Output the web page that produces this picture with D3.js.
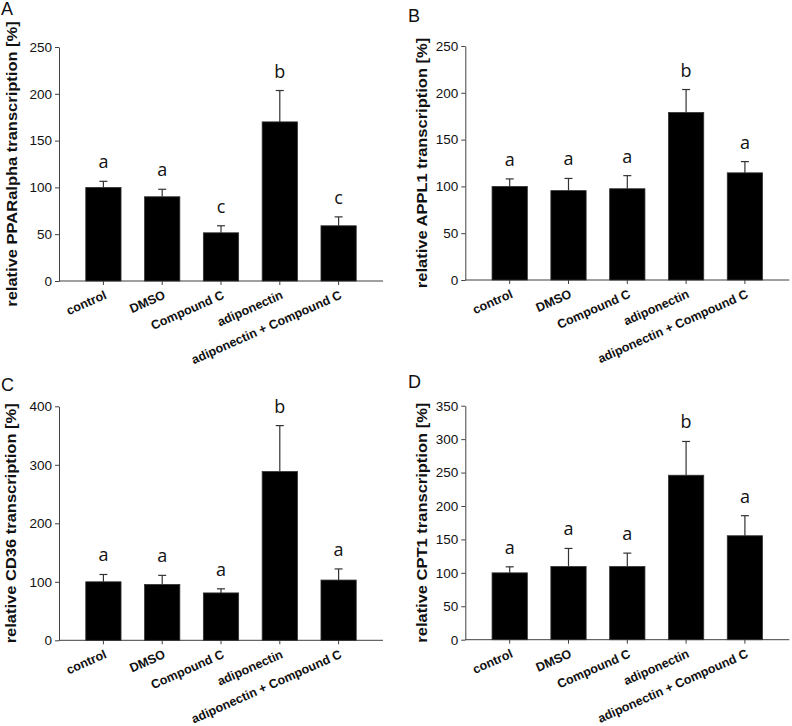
<!DOCTYPE html>
<html>
<head>
<meta charset="utf-8">
<script src="https://cdn.jsdelivr.net/npm/d3@7"></script>
<style>
  body { margin: 0; background: #fff; }
  svg { display: block; }
</style>
</head>
<body>
<svg id="chart" width="792" height="726"></svg>
<script>
// ---------- data ----------
const categories = ["control", "DMSO", "Compound C", "adiponectin", "adiponectin + Compound C"];

const pparMeans   = [100, 90, 51.5, 170, 59];
const pparErrors  = [6.5, 8, 7.5, 33.5, 9.5];
const pparLetters = ["a", "a", "c", "b", "c"];
const pparTicks   = [0, 50, 100, 150, 200, 250];

const applMeans   = [100, 95.5, 97.5, 179, 114.5];
const applErrors  = [8, 13, 14, 24.5, 12];
const applLetters = ["a", "a", "a", "b", "a"];
const applTicks   = [0, 50, 100, 150, 200, 250];

const cd36Means   = [100, 95.5, 81, 288.5, 103];
const cd36Errors  = [12.5, 15.5, 7, 78.5, 19];
const cd36Letters = ["a", "a", "a", "b", "a"];
const cd36Ticks   = [0, 100, 200, 300, 400];

const cpt1Means   = [100, 109.5, 109.5, 246, 155.5];
const cpt1Errors  = [9, 27, 20, 50.5, 30];
const cpt1Letters = ["a", "a", "a", "b", "a"];
const cpt1Ticks   = [0, 50, 100, 150, 200, 250, 300, 350];

const panelTags   = ["A", "B", "C", "D"];
const yTitles     = [
  "relative PPARalpha transcription [%]",
  "relative APPL1 transcription [%]",
  "relative CD36 transcription [%]",
  "relative CPT1 transcription [%]"
];

// ---------- layout ----------
const svg = d3.select("#chart");
const plotW = 324, plotH = 234;
const panels = [
  { tag: panelTags[0], title: yTitles[0], means: pparMeans, errs: pparErrors, letters: pparLetters, ticks: pparTicks,
    ax: 59, top: 47, tagX: 1, tagY: 15, titleOff: -42 },
  { tag: panelTags[1], title: yTitles[1], means: applMeans, errs: applErrors, letters: applLetters, ticks: applTicks,
    ax: 465.3, top: 46, tagX: 408, tagY: 22, titleOff: -38.5 },
  { tag: panelTags[2], title: yTitles[2], means: cd36Means, errs: cd36Errors, letters: cd36Letters, ticks: cd36Ticks,
    ax: 59, top: 406.3, tagX: 1, tagY: 391, titleOff: -43 },
  { tag: panelTags[3], title: yTitles[3], means: cpt1Means, errs: cpt1Errors, letters: cpt1Letters, ticks: cpt1Ticks,
    ax: 465.3, top: 405.7, tagX: 408, tagY: 388, titleOff: -38.5 }
];

const axisColor = "#404040";

panels.forEach(p => {
  // panel tag
  svg.append("text")
    .attr("x", p.tagX).attr("y", p.tagY)
    .attr("font-family", "Liberation Sans, Arial, sans-serif")
    .attr("font-size", 18)
    .attr("fill", "#111")
    .text(p.tag);

  const g = svg.append("g").attr("transform", `translate(${p.ax},${p.top})`);

  const y = d3.scaleLinear().domain([0, d3.max(p.ticks)]).range([plotH, 0]);
  const x = d3.scaleBand().domain(categories).range([15, plotW - 15])
    .paddingInner(0.4).paddingOuter(0.2);

  // y axis
  const yAxis = g.append("g").call(
    d3.axisLeft(y).tickValues(p.ticks).tickSize(4).tickSizeOuter(0).tickPadding(3).tickFormat(d3.format("d"))
  );
  yAxis.selectAll("path, line").attr("stroke", axisColor);
  yAxis.selectAll("text")
    .attr("font-family", "Liberation Sans, Arial, sans-serif")
    .attr("font-size", 13.5)
    .attr("fill", "#111");

  // x axis
  const xAxis = g.append("g").attr("transform", `translate(0,${plotH})`).call(
    d3.axisBottom(x).tickSize(4).tickSizeOuter(0)
  );
  xAxis.select(".domain").remove();
  xAxis.selectAll("line").attr("stroke", axisColor);
  xAxis.selectAll("text").remove();
  g.append("line")
    .attr("x1", 0).attr("x2", plotW)
    .attr("y1", plotH).attr("y2", plotH)
    .attr("stroke", axisColor);

  // x labels (rotated)
  g.selectAll(".xlab").data(categories).enter().append("text")
    .attr("class", "xlab")
    .attr("transform", d => `translate(${x(d) + x.bandwidth() / 2 + 4},${plotH + 17}) rotate(-24)`)
    .attr("text-anchor", "end")
    .attr("font-family", "Liberation Sans, Arial, sans-serif")
    .attr("font-weight", "bold")
    .attr("font-size", 12.5)
    .attr("fill", "#111")
    .text(d => d);

  // y title
  g.append("text")
    .attr("transform", `translate(${p.titleOff},${plotH / 2}) rotate(-90) scale(1,0.85)`)
    .attr("text-anchor", "middle")
    .attr("font-family", "Liberation Sans, Arial, sans-serif")
    .attr("font-weight", "bold")
    .attr("font-size", 16.5)
    .attr("fill", "#111")
    .text(p.title);

  const rows = categories.map((c, i) => ({ c, m: p.means[i], e: p.errs[i], l: p.letters[i] }));

  // error bars
  g.selectAll(".err").data(rows).enter().append("line")
    .attr("x1", d => x(d.c) + x.bandwidth() / 2)
    .attr("x2", d => x(d.c) + x.bandwidth() / 2)
    .attr("y1", d => y(d.m))
    .attr("y2", d => y(d.m + d.e))
    .attr("stroke", "#333").attr("stroke-width", 1.2);
  g.selectAll(".cap").data(rows).enter().append("line")
    .attr("x1", d => x(d.c) + x.bandwidth() / 2 - 4)
    .attr("x2", d => x(d.c) + x.bandwidth() / 2 + 4)
    .attr("y1", d => y(d.m + d.e))
    .attr("y2", d => y(d.m + d.e))
    .attr("stroke", "#333").attr("stroke-width", 1.2);

  // bars
  g.selectAll(".bar").data(rows).enter().append("rect")
    .attr("x", d => x(d.c))
    .attr("width", x.bandwidth())
    .attr("y", d => y(d.m))
    .attr("height", d => plotH - y(d.m))
    .attr("fill", "#000")
    .attr("stroke", "#333").attr("stroke-width", 0.8);

  // significance letters
  g.selectAll(".sig").data(rows).enter().append("text")
    .attr("x", d => x(d.c) + x.bandwidth() / 2)
    .attr("y", d => y(d.m + d.e) - 13)
    .attr("text-anchor", "middle")
    .attr("font-family", "Open Sans, Noto Sans, sans-serif")
    .attr("font-size", 18)
    .attr("fill", "#111")
    .text(d => d.l);
});
</script>
</body>
</html>
